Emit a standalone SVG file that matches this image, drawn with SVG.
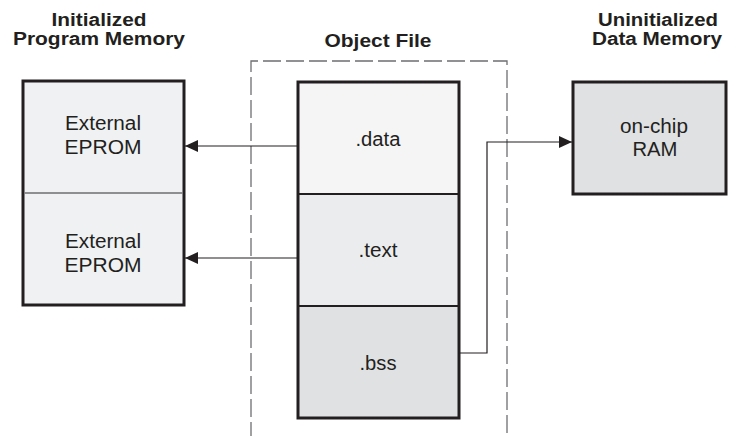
<svg xmlns="http://www.w3.org/2000/svg" width="733" height="436" viewBox="0 0 733 436">
<style>
.title{font-family:"Liberation Sans",Arial,sans-serif;font-weight:bold;font-size:18px;fill:#231f20;text-anchor:middle}
.lbl{font-family:"Liberation Sans",Arial,sans-serif;font-size:19.5px;fill:#231f20;text-anchor:middle}
.box{stroke:#231f20;stroke-width:3}
.conn{fill:none;stroke:#231f20;stroke-width:1.2}
</style>
<defs>
<marker id="ah" markerWidth="13" markerHeight="12" refX="13" refY="6" orient="auto" markerUnits="userSpaceOnUse">
<path d="M0,0 L13,6 L0,12 Z" fill="#231f20"/>
</marker>
</defs>
<rect width="733" height="436" fill="#ffffff"/>
<g id="titles">
<text class="title" x="99" y="26" textLength="95" lengthAdjust="spacingAndGlyphs">Initialized</text>
<text class="title" x="99" y="45" textLength="172" lengthAdjust="spacingAndGlyphs">Program Memory</text>
<text class="title" x="378" y="47" textLength="107" lengthAdjust="spacingAndGlyphs">Object File</text>
<text class="title" x="658" y="26" textLength="120" lengthAdjust="spacingAndGlyphs">Uninitialized</text>
<text class="title" x="657" y="45" textLength="130" lengthAdjust="spacingAndGlyphs">Data Memory</text>
</g>
<g id="object-file-frame">
<path d="M251,440 V61 H507 V440" fill="none" stroke="#6d6e70" stroke-width="1.3" stroke-dasharray="18,5"/>
</g>
<g id="program-memory">
<rect class="box" x="23" y="81" width="161" height="224" fill="#f0f1f3"/>
<line x1="24.5" y1="193" x2="182.5" y2="193" stroke="#6d6e70" stroke-width="1.5"/>
<text class="lbl" x="103" y="129.5" textLength="76" lengthAdjust="spacingAndGlyphs">External</text>
<text class="lbl" x="103" y="154" textLength="77" lengthAdjust="spacingAndGlyphs">EPROM</text>
<text class="lbl" x="103" y="247.5" textLength="76" lengthAdjust="spacingAndGlyphs">External</text>
<text class="lbl" x="103" y="272" textLength="77" lengthAdjust="spacingAndGlyphs">EPROM</text>
</g>
<g id="object-file">
<rect x="298" y="82" width="161" height="112" fill="#f5f5f6"/>
<rect x="298" y="194" width="161" height="112" fill="#ebecee"/>
<rect x="298" y="306" width="161" height="112" fill="#e0e1e3"/>
<line x1="298" y1="194" x2="459" y2="194" stroke="#231f20" stroke-width="2"/>
<line x1="298" y1="306" x2="459" y2="306" stroke="#231f20" stroke-width="2"/>
<rect class="box" x="298" y="82" width="161" height="336" fill="none"/>
<text class="lbl" x="378" y="146" textLength="45" lengthAdjust="spacingAndGlyphs">.data</text>
<text class="lbl" x="378" y="257" textLength="39" lengthAdjust="spacingAndGlyphs">.text</text>
<text class="lbl" x="378" y="370" textLength="37" lengthAdjust="spacingAndGlyphs">.bss</text>
</g>
<g id="data-memory">
<rect class="box" x="573" y="82" width="153" height="112" fill="#e0e1e3"/>
<text class="lbl" x="654" y="133" textLength="68" lengthAdjust="spacingAndGlyphs">on-chip</text>
<text class="lbl" x="655" y="156" textLength="45" lengthAdjust="spacingAndGlyphs">RAM</text>
</g>
<g id="connectors">
<path class="conn" d="M298,146 H185" marker-end="url(#ah)"/>
<path class="conn" d="M298,258 H185" marker-end="url(#ah)"/>
<path class="conn" d="M459,353 H487 V142 H572" marker-end="url(#ah)"/>
</g>
</svg>
